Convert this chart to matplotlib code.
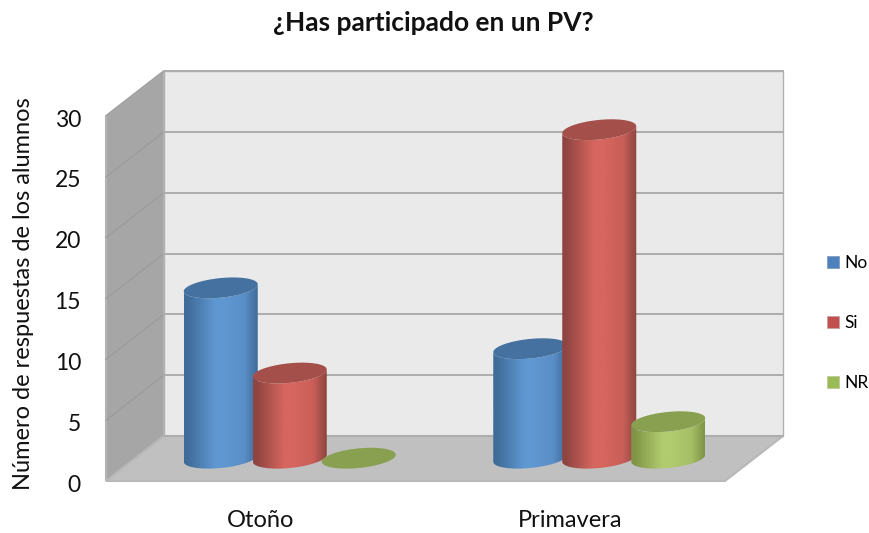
import numpy as np
import matplotlib
matplotlib.use("Agg")
import matplotlib.pyplot as plt
from matplotlib.colors import LinearSegmentedColormap
from matplotlib.patches import Patch, Polygon
from matplotlib.transforms import ScaledTranslation

plt.rcParams['font.family'] = ['Lato', 'DejaVu Sans']

categories = ['Otoño', 'Primavera']
series_names = ['No', 'Si', 'NR']
no_values = [14, 9]
si_values = [7, 27]
nr_values = [0, 3]
y_ticks = [0, 5, 10, 15, 20, 25, 30]

FIG_W, FIG_H = 870, 533
# front plane of the box, in pixels
LEFT, RIGHT, BOTTOM, TOP = 106, 725, 481, 116
PX_X = (RIGHT - LEFT) / 2.0
PX_Y = (BOTTOM - TOP) / 30.0

# depth of the box in data units
depth_x = 58 / PX_X
depth_y = 45 / PX_Y
# plane the cylinders stand on
bar_dx = 29 / PX_X
bar_dy = 22.8 / PX_Y
bar_step = 69 / PX_X
bar_half = 37 / PX_X
ell_b = 9.8 / PX_Y
ell_s = 3.5 / PX_Y

colors = {
    'No': {'edge': '#3f6c99', 'mid': '#5f97d2', 'dim': '#5a8ec6', 'top': '#44719f', 'flat': '#4f81bd'},
    'Si': {'edge': '#8e4440', 'mid': '#d6665f', 'dim': '#c95f58', 'top': '#a44f49', 'flat': '#c0504d'},
    'NR': {'edge': '#7f9446', 'mid': '#b0cc6e', 'dim': '#a5bf66', 'top': '#88a04f', 'flat': '#9bbb59'},
}


def draw_box(ax):
    x0, x1 = -0.5, 1.5
    # side wall
    ax.add_patch(Polygon([(x0, 0), (x0, 30), (x0 + depth_x, 30 + depth_y), (x0 + depth_x, depth_y)],
                         fc='#a6a6a6', ec='#b4b4b4', lw=1.5, clip_on=False, zorder=1))
    # back wall
    ax.add_patch(Polygon([(x0 + depth_x, depth_y), (x0 + depth_x, 30 + depth_y),
                          (x1 + depth_x, 30 + depth_y), (x1 + depth_x, depth_y)],
                         fc='#eaeaea', ec='#b0b0b0', lw=1.0, clip_on=False, zorder=1))
    # floor
    ax.add_patch(Polygon([(x0, 0), (x0 + depth_x, depth_y), (x1 + depth_x, depth_y), (x1, 0)],
                         fc='#c0c0c0', ec='#b8b8b8', lw=1.5, clip_on=False, zorder=2))
    for t in y_ticks:
        if t > 0:
            ax.plot([x0, x0 + depth_x], [t, t + depth_y], color='#9a9a9a', lw=0.8,
                    clip_on=False, zorder=2)
        ax.plot([x0 + depth_x, x1 + depth_x], [t + depth_y, t + depth_y], color='#adadad', lw=1.4,
                clip_on=False, zorder=2)


def ellipse_points(cx, level, start=0.0, stop=2 * np.pi):
    t = np.linspace(start, stop, 80)
    xs = cx + bar_half * np.cos(t)
    ys = level + ell_b * np.sin(t) + ell_s * np.cos(t)
    return np.column_stack([xs, ys])


def draw_cylinder(ax, cx, value, name, z):
    c = colors[name]
    base = bar_dy
    top = bar_dy + value
    if value > 0:
        # body outline: underside of the base, then back along the front of the top
        low = ellipse_points(cx, base, np.pi, 2 * np.pi)
        high = ellipse_points(cx, top, 2 * np.pi, np.pi)
        body = Polygon(np.vstack([low, high]), fc='none', ec='none', zorder=z)
        ax.add_patch(body)
        cmap = LinearSegmentedColormap.from_list(name, [(0, c['edge']), (0.04, c['edge']), (0.42, c['mid']),
                                                        (0.55, c['mid']), (0.82, c['dim']), (1, c['edge'])])
        shade = np.linspace(0, 1, 120).reshape(1, -1)
        im = ax.imshow(shade, cmap=cmap, aspect='auto', zorder=z, clip_on=True,
                       extent=(cx - bar_half, cx + bar_half, base - 2, top + 2))
        im.set_clip_path(body)
    ax.add_patch(Polygon(ellipse_points(cx, top), fc=c['top'], ec='none', clip_on=False, zorder=z + 0.1))


fig = plt.figure(figsize=(FIG_W / 100, FIG_H / 100), dpi=100)
ax = fig.add_axes([LEFT / FIG_W, 1 - BOTTOM / FIG_H, (RIGHT - LEFT) / FIG_W, (BOTTOM - TOP) / FIG_H])

draw_box(ax)

z = 3
for g in range(len(categories)):
    for i, (name, vals) in enumerate(zip(series_names, [no_values, si_values, nr_values])):
        draw_cylinder(ax, g + bar_dx + (i - 1) * bar_step, vals[g], name, z)
        z += 1

ax.set_xlim(-0.5, 1.5)
ax.set_ylim(0, 30)
ax.patch.set_visible(False)
for s in ax.spines.values():
    s.set_visible(False)
ax.set_xticks(range(len(categories)))
ax.set_xticklabels(categories, fontsize=17, color='#111111')
ax.set_yticks(y_ticks)
ax.set_yticklabels([str(t) for t in y_ticks], fontsize=16.5, color='#111111')
ax.tick_params(axis='x', length=0, pad=21)
ax.tick_params(axis='y', length=0, pad=18)
# y labels sit a little lower than the ticks
nudge = ScaledTranslation(0, -1.5 / 72, fig.dpi_scale_trans)
for lab in ax.get_yticklabels():
    lab.set_transform(lab.get_transform() + nudge)

fig.text(24 / FIG_W, 1 - 294 / FIG_H, 'Número de respuestas de los alumnos', rotation=90,
         ha='center', va='center', fontsize=17, color='#111111')
fig.text(433 / FIG_W, 1 - 23 / FIG_H, '¿Has participado en un PV?', ha='center', va='center',
         fontsize=19, fontweight='bold', color='#111111')

handles = [Patch(fc=colors[n]['flat'], ec='#7f9fc0' if n == 'No' else '#c9a0a0' if n == 'Si' else '#bdcc96',
                 lw=0.6, label=n) for n in series_names]
fig.legend(handles=handles, loc='center left', bbox_to_anchor=(827 / FIG_W, 1 - 323 / FIG_H),
           frameon=False, fontsize=12.5, handlelength=0.7, handleheight=0.7, handletextpad=0.3,
           labelspacing=2.55, borderpad=0, borderaxespad=0)

fig.savefig('out.png', dpi=100)
